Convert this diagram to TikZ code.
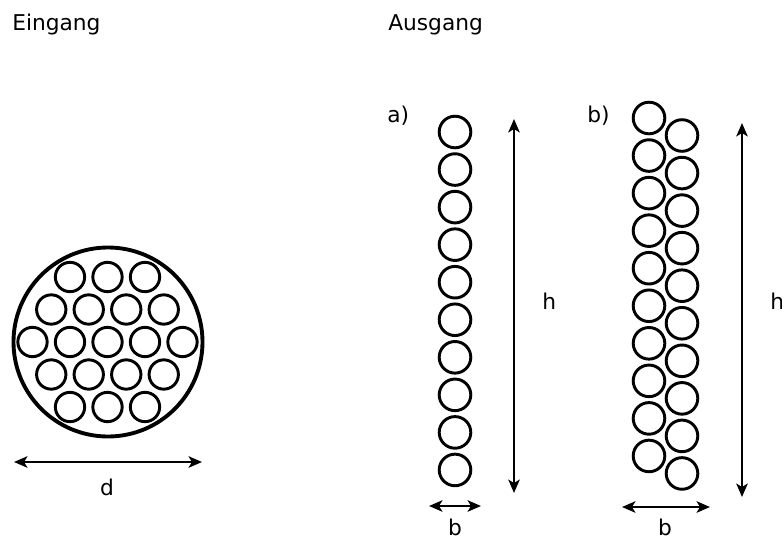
\documentclass[tikz,border=0pt]{standalone}
\usepackage{fontspec}
\setmainfont{DejaVu Sans}
\usetikzlibrary{arrows.meta}
\begin{document}
\begin{tikzpicture}[x=0.75pt,y=-0.75pt,
  label/.style={inner sep=0pt,font=\fontsize{16.3}{19}\selectfont},
  wire/.style={circle,draw,line width=2.2pt,inner sep=0pt,minimum size=22pt},
  strand/.style={circle,draw,line width=2.2pt,inner sep=0pt,minimum size=23.7pt},
  bundle/.style={draw,line width=2.9pt},
  tip/.tip={Stealth[length=10pt,width=8.5pt,inset=2.5pt]},
  dim/.style={line width=2.1pt,tip-tip},
  ]
\useasboundingbox (0,0) rectangle (782,539);

% headings
\node[label,anchor=base west] (ein) at (12,30) {Eingang};
\node[label,anchor=base west] (aus) at (388,30) {Ausgang};

% input: hexagonal bundle of 19 wires inside a sheath
\draw[bundle] (108,342) circle (94.5);
\foreach \row/\n/\xs in {-2/3/70, -1/4/51.25, 0/5/32.5, 1/4/51.25, 2/3/70}{
  \foreach \k in {1,...,\n}{
    \node[wire] (in\row\k) at ({\xs+37.5*(\k-1)},{342+32.5*\row}) {};
  }
}
\coordinate (dl) at (14,462);
\coordinate (dr) at (202,462);
\draw[dim] (dl) -- (dr);
\node[label,anchor=base] (dlab) at (107,495) {d};

% output a): single column
\node[label,anchor=base west] (la) at (387,122) {a)};
\foreach \k in {1,...,10}{
  \node[strand] (a\k) at (455,{132+37.55*(\k-1)}) {};
}
\coordinate (hat) at (514,119);
\coordinate (hab) at (514,493);
\draw[dim] (hat) -- (hab);
\node[label,anchor=base west] (hla) at (542,309) {h};
\coordinate (bal) at (429,506);
\coordinate (bar) at (481,506);
\draw[dim] (bal) -- (bar);
\node[label,anchor=base] (bla) at (455,535) {b};

% output b): two staggered columns
\node[label,anchor=base west] (lb) at (587,122) {b)};
\foreach \k in {1,...,10}{
  \node[strand] (bl\k) at (649,{118+37.55*(\k-1)}) {};
  \node[strand] (br\k) at (682,{135.5+37.55*(\k-1)}) {};
}
\coordinate (hbt) at (742,123);
\coordinate (hbb) at (742,497);
\draw[dim] (hbt) -- (hbb);
\node[label,anchor=base west] (hlb) at (770,309) {h};
\coordinate (bbl) at (622,507);
\coordinate (bbr) at (710,507);
\draw[dim] (bbl) -- (bbr);
\node[label,anchor=base] (blb) at (665,535.5) {b};
\end{tikzpicture}
\end{document}
